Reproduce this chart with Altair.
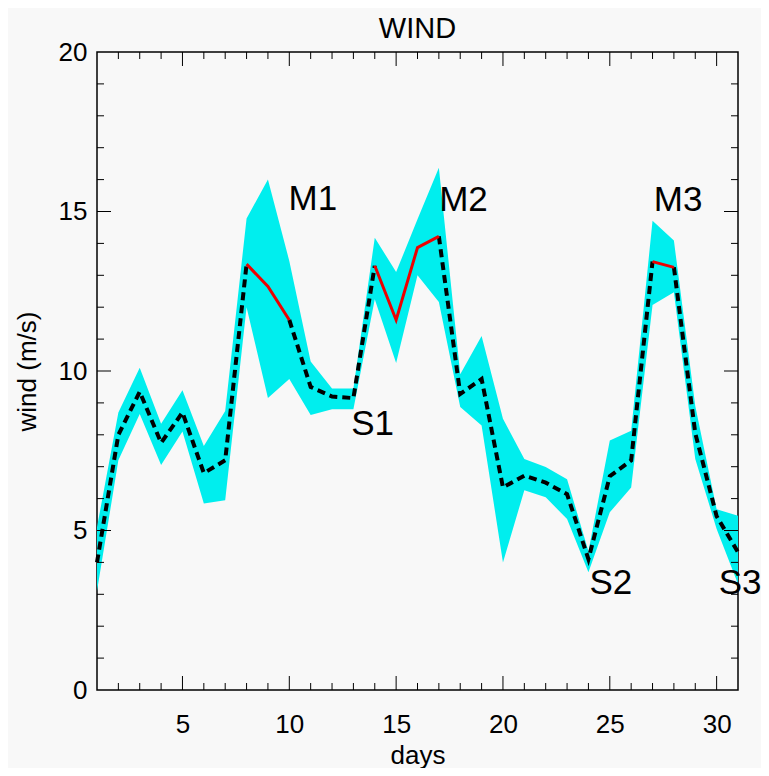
import altair as alt
import pandas as pd

# ---- data ----
days = list(range(1, 32))
wind_mean = [4.0, 8.0, 9.35, 7.75, 8.7, 6.8, 7.2, 13.35, 12.65, 11.6,
             9.5, 9.2, 9.15, 13.3, 11.6, 13.87, 14.22, 9.28, 9.75, 6.35,
             6.72, 6.5, 6.14, 4.1, 6.7, 7.2, 13.43, 13.25, 8.05, 5.45, 4.32]
wind_min = [3.1, 7.2, 8.65, 7.05, 8.1, 5.85, 5.95, 12.0, 9.15, 9.75,
            8.62, 8.8, 8.8, 12.25, 10.25, 13.0, 12.16, 8.87, 8.29, 4.0,
            6.26, 6.04, 5.36, 3.69, 5.57, 6.35, 12.07, 12.47, 7.24, 5.05, 3.32]
wind_max = [5.1, 8.7, 10.1, 8.35, 9.4, 7.65, 8.75, 14.78, 16.0, 13.45,
            10.3, 9.45, 9.45, 14.18, 13.1, 14.76, 16.37, 9.9, 11.1, 8.5,
            7.24, 6.99, 6.61, 4.35, 7.82, 8.13, 14.71, 14.09, 8.9, 5.67, 5.46]
red_segments = [[8, 9, 10], [14, 15, 16, 17], [27, 28]]

label_text = ["M1", "M2", "M3", "S1", "S2", "S3"]
label_day = [11.1, 18.15, 28.2, 13.9, 25.05, 31.1]
label_wind = [15.4, 15.35, 15.35, 8.35, 3.35, 3.35]

x_label_values = [5, 10, 15, 20, 25, 30]
y_label_values = [0, 5, 10, 15, 20]
x_tick_values = list(range(2, 31))
y_tick_values = list(range(1, 20))

W, H = 641, 638
FONT = "Liberation Sans"

df = pd.DataFrame({"day": days, "mean": wind_mean, "lo": wind_min, "hi": wind_max})

# red (solid) segments and the dashed remainder
red_rows = []
for i, seg in enumerate(red_segments):
    for d in seg:
        red_rows.append({"day": d, "mean": wind_mean[d - 1], "seg": i})
red_df = pd.DataFrame(red_rows)

dash_rows = []
start = days[0]
k = 0
for seg in red_segments + [[days[-1]]]:
    end = seg[0]
    for d in range(start, end + 1):
        dash_rows.append({"day": d, "mean": wind_mean[d - 1], "seg": k})
    k += 1
    start = seg[-1]
dash_df = pd.DataFrame(dash_rows)

lab_df = pd.DataFrame({"t": label_text, "day": label_day, "wind": label_wind})

xs = alt.Scale(domain=[1, 31], nice=False, zero=False)
ys = alt.Scale(domain=[0, 20], nice=False, zero=False)

x_axis = alt.Axis(values=x_label_values, ticks=False, domain=False, grid=False,
                  labelFont=FONT, labelFontSize=26, labelColor="black",
                  labelPadding=21, title="days", titleFont=FONT,
                  titleFontSize=26, titleFontWeight="normal", titleColor="black",
                  titlePadding=5, format="d")
y_axis = alt.Axis(values=y_label_values, ticks=False, domain=False, grid=False,
                  labelFont=FONT, labelFontSize=26, labelColor="black",
                  labelPadding=10, title="wind (m/s)", titleFont=FONT,
                  titleFontSize=26, titleFontWeight="normal", titleColor="black",
                  titlePadding=18, format="d")


def X(field):
    return alt.X(field, scale=xs, axis=x_axis, title="days")


def Y(field):
    return alt.Y(field, scale=ys, axis=y_axis, title="wind (m/s)")


band = alt.Chart(df).mark_area(color="#00eeee", opacity=1, interpolate="linear").encode(
    x=X("day:Q"), y=Y("hi:Q"), y2="lo:Q",
)

dashed = alt.Chart(dash_df).mark_line(color="black", strokeWidth=4, strokeDash=[8, 5]).encode(
    x=X("day:Q"), y=Y("mean:Q"), detail="seg:N",
)

red = alt.Chart(red_df).mark_line(color="#ee0000", strokeWidth=3).encode(
    x=X("day:Q"), y=Y("mean:Q"), detail="seg:N",
)

labels = alt.Chart(lab_df).mark_text(font=FONT, fontSize=35, color="black",
                                     align="center", baseline="middle").encode(
    x=X("day:Q"), y=Y("wind:Q"), text="t:N",
)


def xticks(values, length):
    d = pd.DataFrame({"v": values})
    base = alt.Chart(d).mark_rule(color="black", strokeWidth=1)
    bottom = base.encode(x=X("v:Q"), y=alt.value(H), y2=alt.value(H - length))
    top = base.encode(x=X("v:Q"), y=alt.value(0), y2=alt.value(length))
    return [bottom, top]


def yticks(values, length):
    d = pd.DataFrame({"v": values})
    base = alt.Chart(d).mark_rule(color="black", strokeWidth=1)
    left = base.encode(y=Y("v:Q"), x=alt.value(0), x2=alt.value(length))
    right = base.encode(y=Y("v:Q"), x=alt.value(W - length), x2=alt.value(W))
    return [left, right]


tick_layers = (xticks([v for v in x_tick_values if v % 5 != 0], 7)
               + xticks([v for v in x_tick_values if v % 5 == 0], 14)
               + yticks([v for v in y_tick_values if v % 5 != 0], 7)
               + yticks([v for v in y_tick_values if v % 5 == 0], 14))

chart = alt.layer(band, dashed, red, *tick_layers, labels).properties(
    width=W, height=H,
    title=alt.TitleParams("WIND", font=FONT, fontSize=29, fontWeight="normal",
                          color="black", offset=8, dy=13, anchor="middle", frame="group"),
    autosize=alt.AutoSizeParams(type="none"),
    padding={"left": 89, "top": 44, "right": 23, "bottom": 78},
    background="#f8f8f8",
).configure_view(stroke="black", strokeWidth=1.5)

chart.save("out.html", embed_options={"renderer": "svg", "actions": False})
